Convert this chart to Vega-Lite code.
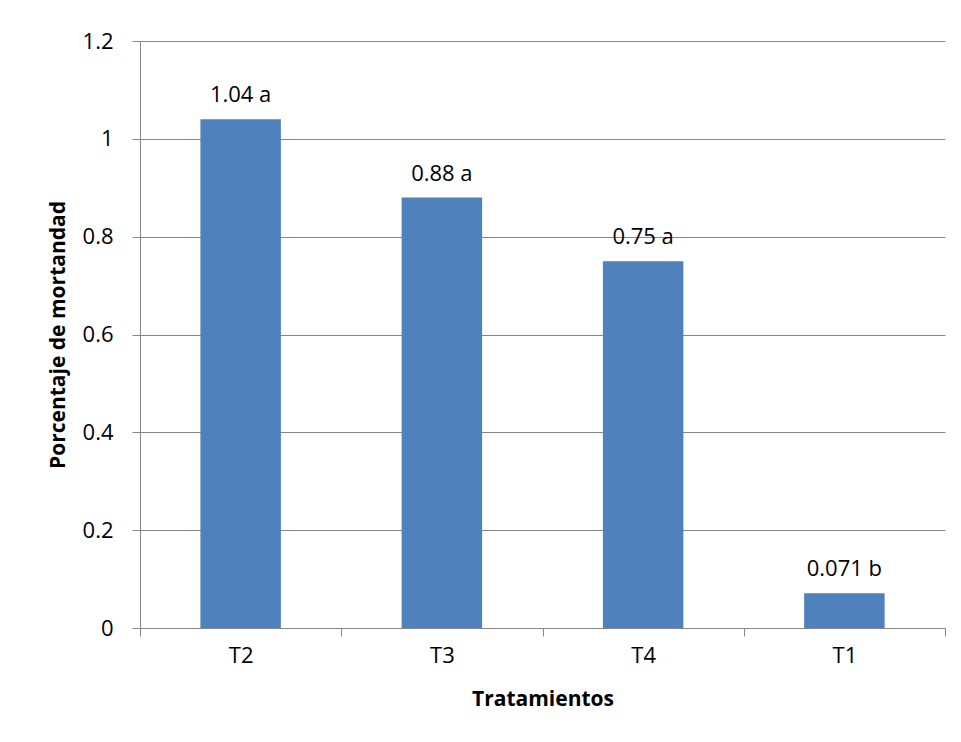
{
  "$schema": "https://vega.github.io/schema/vega-lite/v6.json",
  "width": 805,
  "height": 587,
  "autosize": {"type": "none"},
  "padding": {"left": 140, "top": 41, "right": 16, "bottom": 114},
  "background": "white",
  "data": {
    "values": [
      {"tratamiento": "T2", "mortandad": 1.04, "etiqueta": "1.04 a"},
      {"tratamiento": "T3", "mortandad": 0.88, "etiqueta": "0.88 a"},
      {"tratamiento": "T4", "mortandad": 0.75, "etiqueta": "0.75 a"},
      {"tratamiento": "T1", "mortandad": 0.071, "etiqueta": "0.071 b"}
    ]
  },
  "encoding": {
    "x": {
      "field": "tratamiento",
      "type": "nominal",
      "sort": ["T2", "T3", "T4", "T1"],
      "scale": {"paddingInner": 0, "paddingOuter": 0},
      "axis": {
        "title": "Tratamientos",
        "titleFont": "Open Sans",
        "titleFontSize": 21,
        "titleFontWeight": "bold",
        "titleColor": "#000000",
        "titlePadding": 22,
        "labelFont": "Open Sans",
        "labelFontSize": 22,
        "labelColor": "#000000",
        "labelAngle": 0,
        "labelPadding": 9,
        "tickBand": "extent",
        "tickSize": 8,
        "tickColor": "#868686",
        "domainColor": "#868686",
        "grid": false
      }
    },
    "y": {
      "field": "mortandad",
      "type": "quantitative",
      "scale": {"domain": [0, 1.2], "nice": false},
      "axis": {
        "title": "Porcentaje de mortandad",
        "titleFont": "Open Sans",
        "titleFontSize": 21,
        "titleFontWeight": "bold",
        "titleColor": "#000000",
        "titlePadding": 14,
        "values": [0, 0.2, 0.4, 0.6, 0.8, 1, 1.2],
        "format": ".1~f",
        "labelFont": "Open Sans",
        "labelFontSize": 22,
        "labelColor": "#000000",
        "labelPadding": 19,
        "tickSize": 8,
        "tickColor": "#868686",
        "domainColor": "#868686",
        "grid": true,
        "gridColor": "#868686",
        "gridWidth": 1
      }
    }
  },
  "layer": [
    {"mark": {"type": "bar", "color": "#4F81BD", "width": {"band": 0.4}}},
    {
      "mark": {
        "type": "text",
        "dy": -24,
        "font": "Open Sans",
        "fontSize": 22,
        "color": "#000000"
      },
      "encoding": {"text": {"field": "etiqueta"}}
    }
  ],
  "config": {"view": {"stroke": null}}
}
